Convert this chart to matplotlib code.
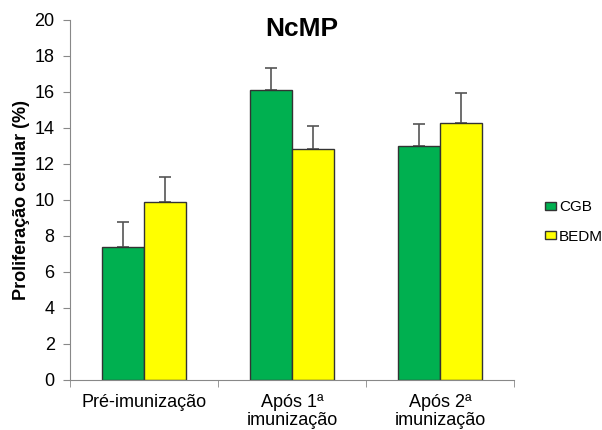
import numpy as np
import matplotlib.pyplot as plt
from matplotlib.patches import Patch

plt.rcParams['font.family'] = ['Liberation Sans', 'DejaVu Sans']

grupos = ['Pré-imunização', 'Após 1ª\nimunização', 'Após 2ª\nimunização']
cgb = [7.4, 16.1, 13.0]
cgb_err = [1.4, 1.25, 1.2]
bedm = [9.9, 12.85, 14.3]
bedm_err = [1.4, 1.25, 1.65]

fig = plt.figure(figsize=(6.02, 4.30), dpi=100)
ax = fig.add_axes([70 / 602, 1 - 380 / 430, 444 / 602, 360 / 430])

x = np.arange(len(grupos))
w = 0.285
# upper error bars only, drawn under the bars so the lower cap is hidden
ekw = dict(fmt='none', ecolor='#555555', elinewidth=1.2, capsize=4, capthick=1.2, zorder=1)
ax.errorbar(x - w / 2, cgb, yerr=[np.zeros(3), cgb_err], **ekw)
ax.errorbar(x + w / 2, bedm, yerr=[np.zeros(3), bedm_err], **ekw)
ax.bar(x - w / 2, cgb, w, color='#00b050', edgecolor='#333333', linewidth=1.0, zorder=2)
ax.bar(x + w / 2, bedm, w, color='#ffff00', edgecolor='#333333', linewidth=1.0, zorder=2)

ax.set_xlim(-0.5, 2.5)
ax.set_ylim(0, 20)
ax.set_yticks(range(0, 21, 2))
ax.set_xticks(x)
ax.set_xticklabels(grupos, fontsize=13, linespacing=1.1)
ax.tick_params(axis='x', length=0, pad=10)
ax.set_xticks([-0.5, 0.5, 1.5, 2.5], minor=True)
ax.tick_params(axis='x', which='minor', length=5, color='#888888')
ax.tick_params(axis='y', labelsize=13, length=5, color='#888888', pad=6)

for side in ['top', 'right']:
    ax.spines[side].set_visible(False)
for side in ['left', 'bottom']:
    ax.spines[side].set_color('#888888')

ax.set_ylabel('Proliferação celular (%)', fontsize=13, fontweight='bold', labelpad=3)
fig.text(0.502, 1 - 29 / 430, 'NcMP', fontsize=19, fontweight='bold', ha='center', va='center')

handles = [Patch(facecolor='#00b050', edgecolor='#333333', label='CGB'),
           Patch(facecolor='#ffff00', edgecolor='#333333', label='BEDM')]
fig.legend(handles=handles, loc='center left', bbox_to_anchor=(545 / 602, 1 - 222 / 430),
           frameon=False, fontsize=11, handlelength=0.7, handleheight=0.45,
           handletextpad=0.2, labelspacing=1.0, borderpad=0, borderaxespad=0)

fig.savefig('out.png', dpi=100)
